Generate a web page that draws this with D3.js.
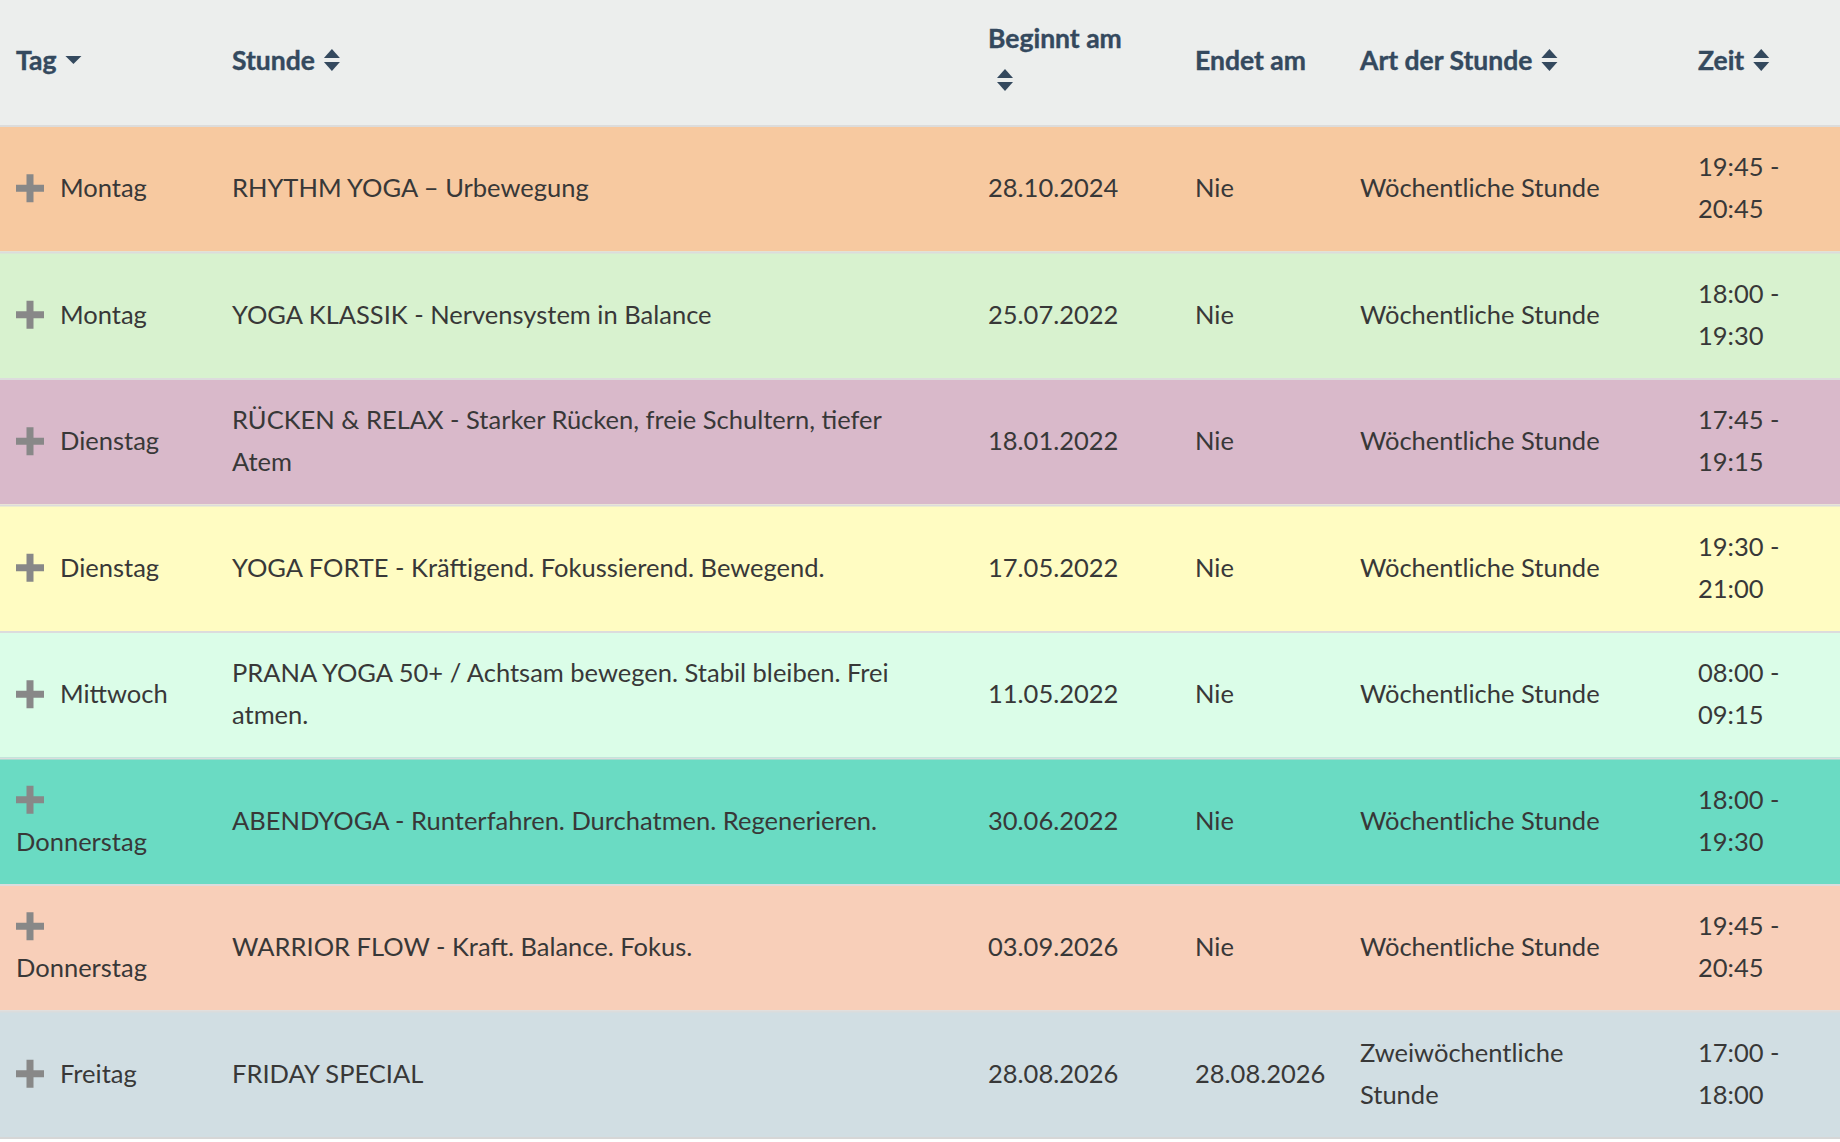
<!DOCTYPE html>
<html>
<head>
<meta charset="utf-8">
<script src="https://cdn.jsdelivr.net/npm/d3@7"></script>
<style>
  body { margin: 0; background: #fff; }
  svg { display: block; }
</style>
</head>
<body>
<svg class="chart" width="1840" height="1142"></svg>
<script>
// table contents ("\n" = line break as shown)
var columns = ["tag", "stunde", "beginn", "ende", "art", "zeit"];
var headers = ["Tag", "Stunde", "Beginnt am", "Endet am", "Art der Stunde", "Zeit"];
var headerIcons = ["down", "sort", "sortBelow", "", "sort", "sort"];

var days = ["Montag", "Montag", "Dienstag", "Dienstag", "Mittwoch", "Donnerstag", "Donnerstag", "Freitag"];
var lessons = [
    "RHYTHM YOGA \u2013 Urbewegung",
    "YOGA KLASSIK - Nervensystem in Balance",
    "RÜCKEN & RELAX - Starker Rücken, freie Schultern, tiefer\nAtem",
    "YOGA FORTE - Kräftigend. Fokussierend. Bewegend.",
    "PRANA YOGA 50+ / Achtsam bewegen. Stabil bleiben. Frei\natmen.",
    "ABENDYOGA - Runterfahren. Durchatmen. Regenerieren.",
    "WARRIOR FLOW - Kraft. Balance. Fokus.",
    "FRIDAY SPECIAL"
];
var starts = ["28.10.2024", "25.07.2022", "18.01.2022", "17.05.2022", "11.05.2022", "30.06.2022", "03.09.2026", "28.08.2026"];
var ends = ["Nie", "Nie", "Nie", "Nie", "Nie", "Nie", "Nie", "28.08.2026"];
var types = ["Wöchentliche Stunde", "Wöchentliche Stunde", "Wöchentliche Stunde", "Wöchentliche Stunde",
             "Wöchentliche Stunde", "Wöchentliche Stunde", "Wöchentliche Stunde", "Zweiwöchentliche\nStunde"];
var times = ["19:45 -\n20:45", "18:00 -\n19:30", "17:45 -\n19:15", "19:30 -\n21:00",
             "08:00 -\n09:15", "18:00 -\n19:30", "19:45 -\n20:45", "17:00 -\n18:00"];
var rowColors = ["#f7c9a0", "#d8f2cf", "#d9b9ca", "#fffcc2", "#dbfde8", "#6adbc3", "#f8cfb9", "#d1dee3"];

var svg = d3.select(".chart");
var W = +svg.attr("width");
var headerH = 125;
var lineH = 42;
var fontFam = "'Source Sans Pro', Lato, 'Noto Sans', sans-serif";
var fontSize = 25.5;
var headSize = 26.5;
var textColor = "#383838";
var tagWidth = 160; // room for plus icon + day name before it wraps

var rows = days.map(function (d, i) {
    return {tag: d, stunde: lessons[i], beginn: starts[i], ende: ends[i], art: types[i], zeit: times[i], color: rowColors[i]};
});

var xCol = d3.scaleOrdinal().domain(columns).range([16, 232, 988, 1195, 1360, 1698]);
var yRow = d3.scaleBand().domain(d3.range(rows.length)).range([headerH, 1137]).paddingInner(0);

// header
svg.append("rect").attr("x", 0).attr("y", 0).attr("width", W).attr("height", headerH).attr("fill", "#eceeed");

var hdr = svg.append("g").attr("class", "header")
    .style("font-family", fontFam).style("font-weight", "700").style("font-size", headSize + "px")
    .attr("fill", "#34495e");

function sortIcon(g, cx, cy, mode) {
    if (mode === "down") {
        g.append("path").attr("d", "M" + (cx - 8) + "," + (cy - 4) + "h16l-8,8z").attr("fill", "#34495e");
        return;
    }
    g.append("path").attr("d", "M" + (cx - 8) + "," + (cy - 2) + "h16l-8,-9z").attr("fill", "#34495e");
    g.append("path").attr("d", "M" + (cx - 8) + "," + (cy + 2) + "h16l-8,9z").attr("fill", "#34495e");
}

headers.forEach(function (h, i) {
    var x = xCol(columns[i]);
    var icon = headerIcons[i];
    var ty = icon === "sortBelow" ? 39 : 61;
    var t = hdr.append("text").attr("x", x).attr("y", ty).attr("dy", "0.35em")
        .attr("stroke", "#34495e").attr("stroke-width", 0.4).text(h);
    var tw = t.node().getComputedTextLength();
    if (icon === "sortBelow") sortIcon(hdr, x + 17, 80, "sort");
    else if (icon) sortIcon(hdr, x + tw + 17, 60, icon);
});

// rows
var rowG = svg.selectAll("g.row")
    .data(rows)
    .enter()
    .append("g")
    .attr("class", "row")
    .attr("transform", function (d, i) { return "translate(0," + yRow(i) + ")"; });

rowG.append("rect")
    .attr("width", W)
    .attr("height", yRow.bandwidth())
    .attr("fill", function (d) { return d.color; });

rowG.append("rect")
    .attr("width", W)
    .attr("height", 2)
    .attr("fill", "#dcdcdc");

var bh = yRow.bandwidth();

function multiLine(g, x, str) {
    var lines = str.split("\n");
    var t = g.append("text").attr("x", x).attr("fill", textColor);
    lines.forEach(function (l, k) {
        t.append("tspan").attr("x", x)
            .attr("y", bh / 2 + (k - (lines.length - 1) / 2) * lineH)
            .attr("dy", "0.35em")
            .text(l);
    });
}

function plus(g, cx, cy) {
    g.append("rect").attr("x", cx - 14).attr("y", cy - 3.5).attr("width", 28).attr("height", 7).attr("fill", "#888888");
    g.append("rect").attr("x", cx - 3.5).attr("y", cy - 14).attr("width", 7).attr("height", 28).attr("fill", "#888888");
}

rowG.each(function (d) {
    var g = d3.select(this)
        .style("font-family", fontFam).style("font-size", fontSize + "px");
    // day cell: plus icon, text wraps below it when it does not fit
    var probe = g.append("text").text(d.tag);
    var tw = probe.node().getComputedTextLength();
    probe.remove();
    if (44 + tw > tagWidth) {
        plus(g, 30, bh / 2 - 21);
        g.append("text").attr("x", 16).attr("y", bh / 2 + 21).attr("dy", "0.35em").attr("fill", textColor).text(d.tag);
    } else {
        plus(g, 30, bh / 2);
        g.append("text").attr("x", 60).attr("y", bh / 2).attr("dy", "0.35em").attr("fill", textColor).text(d.tag);
    }
    columns.slice(1).forEach(function (c) {
        multiLine(g, xCol(c), d[c]);
    });
});

svg.append("rect").attr("x", 0).attr("y", 1137).attr("width", W).attr("height", 2).attr("fill", "#d6d6d6");
</script>
</body>
</html>
